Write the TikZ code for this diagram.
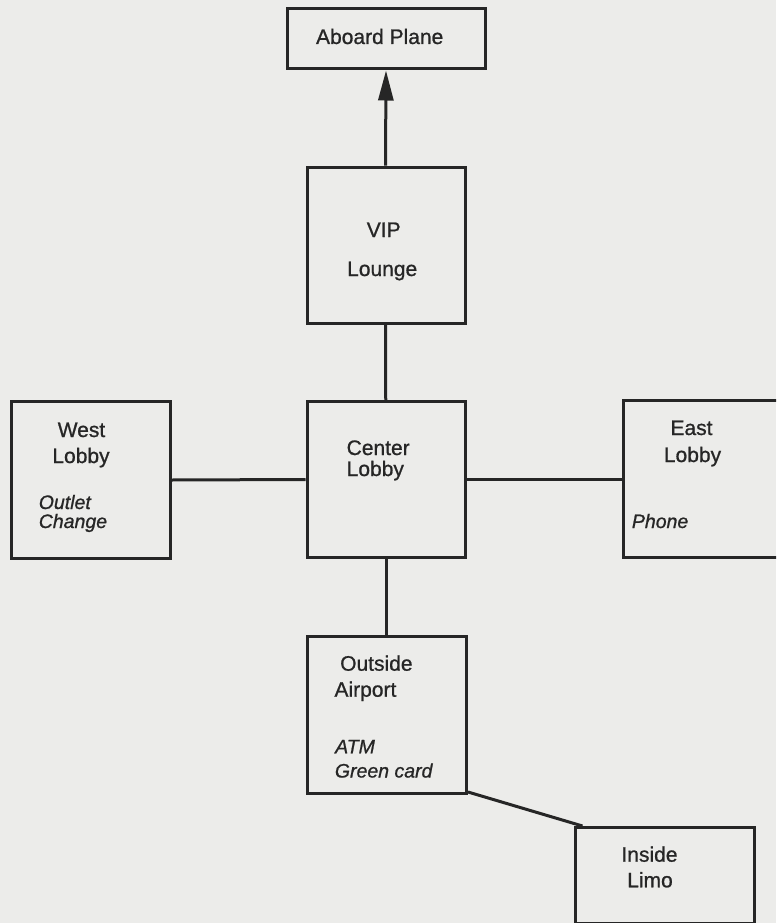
\documentclass[tikz,border=0pt]{standalone}
\usepackage{fontspec}
\setmainfont{Liberation Sans}[FakeBold=0.9]
\usetikzlibrary{arrows.meta}
\definecolor{paper}{HTML}{ECECEA}
\definecolor{ink}{HTML}{262626}
\begin{document}
\begin{tikzpicture}[x=1pt,y=-1pt,
  box/.style={draw=ink, line width=3pt, inner sep=0pt, anchor=north west},
  conn/.style={draw=ink, line width=3pt},
  lbl/.style={text=ink, inner sep=0pt, font=\fontsize{21}{25}\selectfont},
  ilbl/.style={text=ink, inner sep=0pt, font=\fontsize{19.5}{23}\selectfont\itshape}]
\fill[paper] (0,0) rectangle (776,923);
\useasboundingbox (0,0) rectangle (776,923);
\clip (0,0) rectangle (776,923);
% boxes
\node[box, minimum width=198pt, minimum height=60pt] (aboard) at (286,7.5) {};
\node[box, minimum width=158pt, minimum height=156pt] (vip) at (305.5,165.7) {};
\node[box, minimum width=159pt, minimum height=157pt] (west) at (9.5,400) {};
\node[box, minimum width=158.5pt, minimum height=156pt] (center) at (305.5,400) {};
\node[box, minimum width=160pt, minimum height=157pt] (east) at (622,399) {};
\node[box, minimum width=159pt, minimum height=157pt] (outside) at (306,635) {};
\node[box, minimum width=179pt, minimum height=96pt] (limo) at (573.5,826) {};
% labels
\node[lbl, anchor=base] (t1) at (379.7,44) {Aboard Plane};
\node[lbl, anchor=base] (t2) at (383.7,237) {VIP};
\node[lbl, anchor=base] (t3) at (382.2,276) {Lounge};
\node[lbl, anchor=base west] (t4) at (346.5,455) {Center};
\node[lbl, anchor=base west] (t5) at (346.5,476) {Lobby};
\node[lbl, anchor=base] (t6) at (81.5,437) {West};
\node[lbl, anchor=base] (t7) at (81,463) {Lobby};
\node[ilbl, anchor=base west] (t8) at (38.6,509) {Outlet};
\node[ilbl, anchor=base west] (t9) at (38.6,528) {Change};
\node[lbl, anchor=base] (t10) at (691.5,435) {East};
\node[lbl, anchor=base] (t11) at (692.5,462) {Lobby};
\node[ilbl, anchor=base west] (t12) at (631.7,528) {Phone};
\node[lbl, anchor=base west] (t13) at (340,670.7) {Outside};
\node[lbl, anchor=base west] (t14) at (334.3,696.7) {Airport};
\node[ilbl, anchor=base west] (t15) at (335,753.3) {ATM};
\node[ilbl, anchor=base west] (t16) at (334.7,777.5) {Green card};
\node[lbl, anchor=base] (t17) at (649.5,861.7) {Inside};
\node[lbl, anchor=base] (t18) at (650,887.3) {Limo};
% connectors
\draw[conn, -{Triangle[width=15pt,length=30pt]}] ([xshift=-0.5pt]vip.north) -- ([xshift=-0.5pt]aboard.south);
\draw[conn] ([xshift=-0.5pt]vip.south) -- ([xshift=-0.5pt]center.north);
\draw[conn] (west.east) -- (center.west);
\draw[conn] (center.east) -- (east.west |- center.east);
\draw[conn] (center.south) -- (center.south |- outside.north);
\draw[conn] ([yshift=3pt]outside.south east) -- ([xshift=9pt]limo.north west);
\end{tikzpicture}
\end{document}
